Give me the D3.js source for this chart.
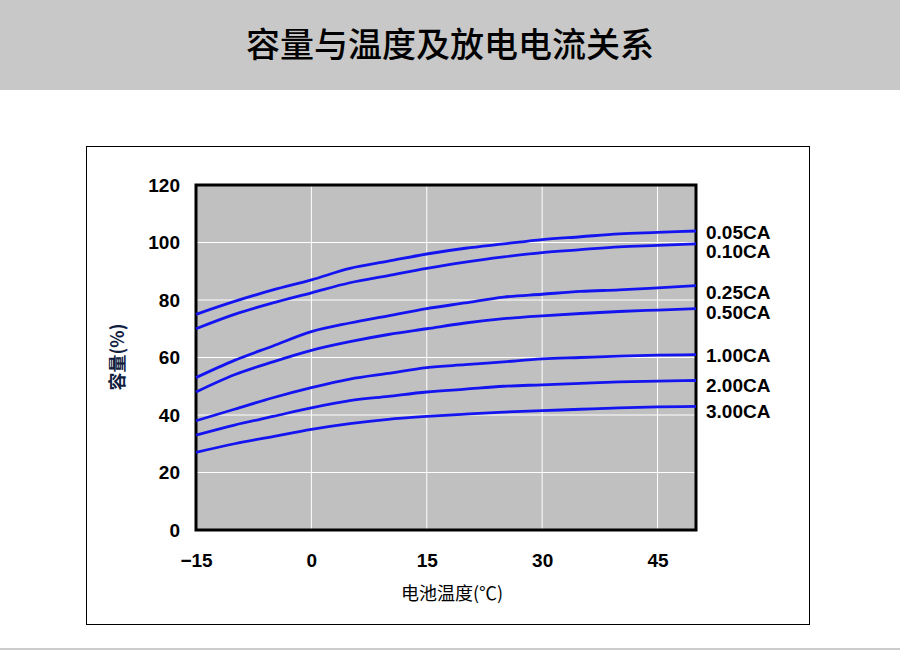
<!DOCTYPE html><html><head><meta charset="utf-8">
<script src="https://cdn.jsdelivr.net/npm/d3@7"></script>
<style>body{margin:0;background:#fff}svg{display:block}</style></head><body>
<svg id="c" width="900" height="652"></svg>
<script>
const temps = [-15,-10,-5,0,5,10,15,20,25,30,35,40,45,50];
const seriesNames = ["0.05CA","0.10CA","0.25CA","0.50CA","1.00CA","2.00CA","3.00CA"];
const s005 = [75,79.5,83.5,87,91,93.5,96,98,99.5,101,102,103,103.5,104];
const s010 = [70,75,79,82.5,86,88.5,91,93.2,95,96.5,97.5,98.5,99,99.5];
const s025 = [53,59,64,69,72,74.5,77,79,81,82,83,83.5,84.2,85];
const s050 = [48,54,58.5,62.5,65.5,68,70,72,73.5,74.5,75.3,76,76.5,77];
const s100 = [38,42,46,49.5,52.5,54.5,56.5,57.5,58.5,59.5,60,60.5,60.8,61];
const s200 = [33,36.5,39.5,42.5,45,46.5,48,49,50,50.5,51,51.5,51.8,52];
const s300 = [27,30,32.5,35,37,38.5,39.5,40.3,41,41.5,42,42.5,42.8,43];
const xTicks = [-15,0,15,30,45];
const yTicks = [0,20,40,60,80,100,120];
const allSeries = [s005,s010,s025,s050,s100,s200,s300];

const svg = d3.select("#c");
svg.append("rect").attr("x",0).attr("y",0).attr("width",900).attr("height",90).attr("fill","#c8c8c8");
svg.append("text").attr("x",450).attr("y",57).attr("text-anchor","middle").attr("font-size",34)
  .attr("font-family","Noto Sans CJK SC").attr("font-weight","500").text("容量与温度及放电电流关系");
svg.append("rect").attr("x",86.5).attr("y",146.5).attr("width",723).attr("height",478).attr("fill","none").attr("stroke","#000").attr("stroke-width",1);
svg.append("line").attr("x1",0).attr("x2",900).attr("y1",649).attr("y2",649).attr("stroke","#ccc").attr("stroke-width",2);

const x = d3.scaleLinear().domain([-15,50]).range([196,696]);
const y = d3.scaleLinear().domain([0,120]).range([530,185]);
svg.append("rect").attr("x",196).attr("y",185).attr("width",500).attr("height",345).attr("fill","#c0c0c0");
const g = svg.append("g");
g.selectAll(".vx").data(xTicks.slice(1)).join("line").attr("x1",d=>x(d)).attr("x2",d=>x(d)).attr("y1",185).attr("y2",530).attr("stroke","#fff").attr("stroke-width",1);
g.selectAll(".hy").data(yTicks.slice(1,-1)).join("line").attr("x1",196).attr("x2",696).attr("y1",d=>y(d)).attr("y2",d=>y(d)).attr("stroke","#fff").attr("stroke-width",1);
svg.append("rect").attr("x",196).attr("y",185).attr("width",500).attr("height",345).attr("fill","none").attr("stroke","#000").attr("stroke-width",3);

const xa = svg.append("g").attr("transform","translate(0,530)").call(d3.axisBottom(x).tickValues(xTicks).tickSize(0).tickPadding(24));
xa.select(".domain").remove();
xa.selectAll("text").attr("font-size",19).attr("font-weight","bold").attr("font-family","Liberation Sans").attr("fill","#000");
const ya = svg.append("g").attr("transform","translate(196,0)").call(d3.axisLeft(y).tickValues(yTicks).tickSize(0).tickPadding(16));
ya.select(".domain").remove();
ya.selectAll("text").attr("font-size",19).attr("font-weight","bold").attr("font-family","Liberation Sans").attr("fill","#000");

const line = d3.line().x((d,i)=>x(temps[i])).y(d=>y(d)).curve(d3.curveMonotoneX);
svg.selectAll(".ln").data(allSeries).join("path").attr("d",line).attr("fill","none").attr("stroke","#1414f0").attr("stroke-width",2.8);
const labY = [232,251,292,312,355,385,411];
svg.selectAll(".lb").data(seriesNames).join("text").attr("x",706).attr("y",(d,i)=>labY[i]+7)
  .attr("font-size",19).attr("font-weight","bold").attr("font-family","Liberation Sans").text(d=>d);
svg.append("text").attr("transform","translate(124,357) rotate(-90)").attr("text-anchor","middle")
  .attr("font-size",18).attr("font-family","Noto Sans CJK SC").attr("font-weight","bold").attr("fill","#102040").text("容量(%)");
svg.append("text").attr("x",452).attr("y",600).attr("text-anchor","middle").attr("font-size",18)
  .attr("font-family","Noto Sans CJK SC").text("电池温度(℃)");
</script></body></html>
